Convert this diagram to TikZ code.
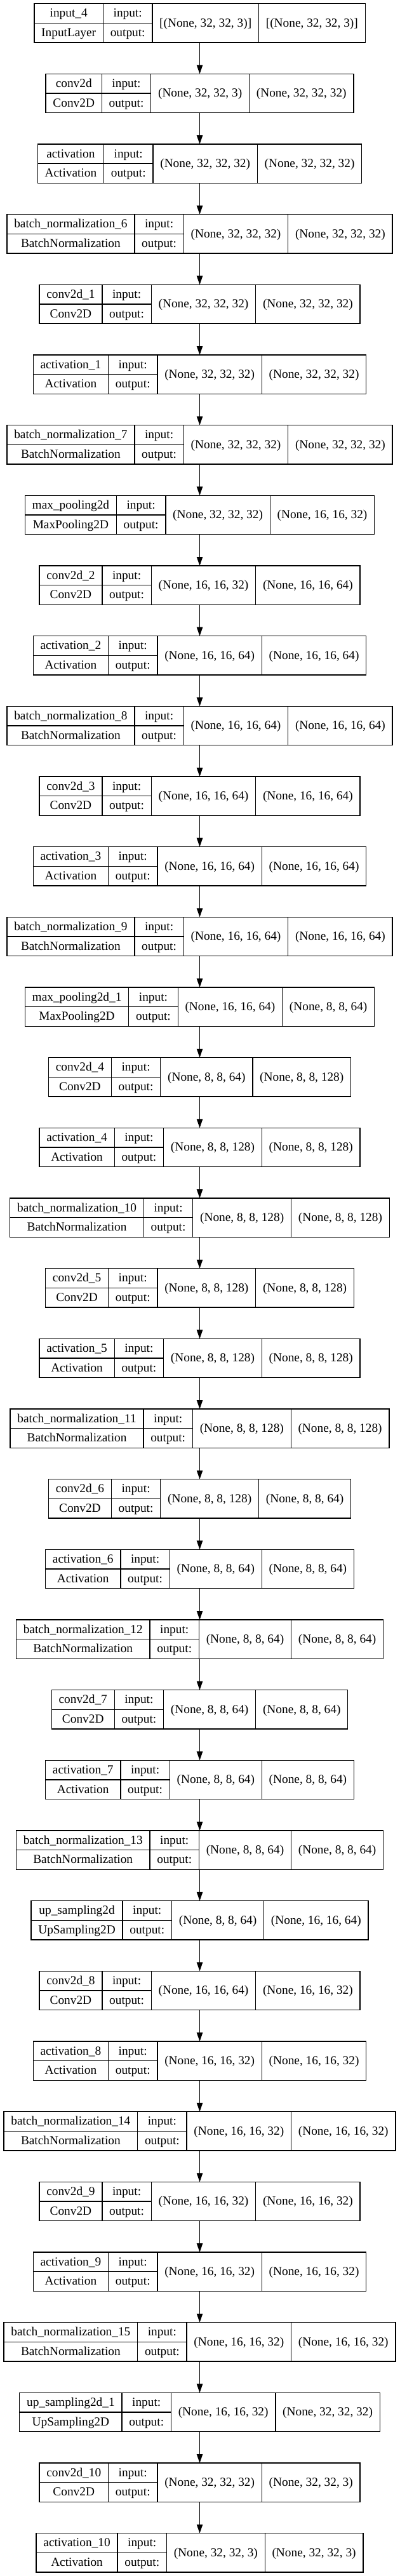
\documentclass[tikz,border=0pt]{standalone}
\usepackage{fontspec}
\setmainfont{Liberation Serif}
\usetikzlibrary{arrows.meta}
\newlength\wA \newlength\wB \newlength\wC \newlength\wD
\newlength\wAB \newlength\wABC \newlength\wT \newlength\tmpl
\newlength\padw \padw=17pt
\newcommand\lf{\fontsize{14.5}{17}\selectfont}
\newcommand\measure[2]{\setbox0=\hbox{\pgfinterruptpicture\normalfont\lf #2\endpgfinterruptpicture}#1=\wd0\relax}
\tikzset{
  kbox/.style={draw=black, line width=1pt, minimum height=46pt, inner sep=0pt, outer sep=0pt},
  kline/.style={draw=black, line width=1pt},
  ktxt/.style={font=\lf, inner sep=0pt, anchor=base},
  karr/.style={draw=black, line width=1pt, -{Triangle[length=10.5pt,width=7pt]}}
}
\newcommand\klayer[6]{%
  \measure\wA{#3}\measure\tmpl{#4}%
  \ifdim\tmpl>\wA\relax\wA=\tmpl\fi
  \addtolength\wA{\padw}%
  \measure\wB{output:}\addtolength\wB{\padw}%
  \measure\wC{#5}\addtolength\wC{\padw}%
  \measure\wD{#6}\addtolength\wD{\padw}%
  \wAB=\wA \advance\wAB\wB
  \wABC=\wAB \advance\wABC\wC
  \wT=\wABC \advance\wT\wD
  \node[kbox, minimum width=\wT] (#1) at ({235.9pt},{-(27.3+83*#2)*1pt}) {};
  \draw[kline] ([xshift=\wA]#1.north west) -- ([xshift=\wA]#1.south west);
  \draw[kline] ([xshift=\wAB]#1.north west) -- ([xshift=\wAB]#1.south west);
  \draw[kline] ([xshift=\wABC]#1.north west) -- ([xshift=\wABC]#1.south west);
  \draw[kline] (#1.west) -- ([xshift=\wAB]#1.west);
  \node[ktxt] (#1n) at ([xshift=0.5\wA, yshift=7.2pt]#1.west) {#3};
  \node[ktxt] (#1c) at ([xshift=0.5\wA, yshift=-15.8pt]#1.west) {#4};
  \node[ktxt] (#1i) at ([xshift=\wA+0.5\wB, yshift=7.2pt]#1.west) {input:};
  \node[ktxt] (#1o) at ([xshift=\wA+0.5\wB, yshift=-15.8pt]#1.west) {output:};
  \node[ktxt] (#1s) at ([xshift=\wAB+0.5\wC, yshift=-4.4pt]#1.west) {#5};
  \node[ktxt] (#1t) at ([xshift=\wABC+0.5\wD, yshift=-4.4pt]#1.west) {#6};
}
\begin{document}
\begin{tikzpicture}
\fill[white] (0,0) rectangle (471.75pt,-3042.75pt);
\useasboundingbox (0,0) rectangle (471.75pt,-3042.75pt);
\klayer{L0}{0}{input\_4}{InputLayer}{[(None, 32, 32, 3)]}{[(None, 32, 32, 3)]}
\klayer{L1}{1}{conv2d}{Conv2D}{(None, 32, 32, 3)}{(None, 32, 32, 32)}
\klayer{L2}{2}{activation}{Activation}{(None, 32, 32, 32)}{(None, 32, 32, 32)}
\klayer{L3}{3}{batch\_normalization\_6}{BatchNormalization}{(None, 32, 32, 32)}{(None, 32, 32, 32)}
\klayer{L4}{4}{conv2d\_1}{Conv2D}{(None, 32, 32, 32)}{(None, 32, 32, 32)}
\klayer{L5}{5}{activation\_1}{Activation}{(None, 32, 32, 32)}{(None, 32, 32, 32)}
\klayer{L6}{6}{batch\_normalization\_7}{BatchNormalization}{(None, 32, 32, 32)}{(None, 32, 32, 32)}
\klayer{L7}{7}{max\_pooling2d}{MaxPooling2D}{(None, 32, 32, 32)}{(None, 16, 16, 32)}
\klayer{L8}{8}{conv2d\_2}{Conv2D}{(None, 16, 16, 32)}{(None, 16, 16, 64)}
\klayer{L9}{9}{activation\_2}{Activation}{(None, 16, 16, 64)}{(None, 16, 16, 64)}
\klayer{L10}{10}{batch\_normalization\_8}{BatchNormalization}{(None, 16, 16, 64)}{(None, 16, 16, 64)}
\klayer{L11}{11}{conv2d\_3}{Conv2D}{(None, 16, 16, 64)}{(None, 16, 16, 64)}
\klayer{L12}{12}{activation\_3}{Activation}{(None, 16, 16, 64)}{(None, 16, 16, 64)}
\klayer{L13}{13}{batch\_normalization\_9}{BatchNormalization}{(None, 16, 16, 64)}{(None, 16, 16, 64)}
\klayer{L14}{14}{max\_pooling2d\_1}{MaxPooling2D}{(None, 16, 16, 64)}{(None, 8, 8, 64)}
\klayer{L15}{15}{conv2d\_4}{Conv2D}{(None, 8, 8, 64)}{(None, 8, 8, 128)}
\klayer{L16}{16}{activation\_4}{Activation}{(None, 8, 8, 128)}{(None, 8, 8, 128)}
\klayer{L17}{17}{batch\_normalization\_10}{BatchNormalization}{(None, 8, 8, 128)}{(None, 8, 8, 128)}
\klayer{L18}{18}{conv2d\_5}{Conv2D}{(None, 8, 8, 128)}{(None, 8, 8, 128)}
\klayer{L19}{19}{activation\_5}{Activation}{(None, 8, 8, 128)}{(None, 8, 8, 128)}
\klayer{L20}{20}{batch\_normalization\_11}{BatchNormalization}{(None, 8, 8, 128)}{(None, 8, 8, 128)}
\klayer{L21}{21}{conv2d\_6}{Conv2D}{(None, 8, 8, 128)}{(None, 8, 8, 64)}
\klayer{L22}{22}{activation\_6}{Activation}{(None, 8, 8, 64)}{(None, 8, 8, 64)}
\klayer{L23}{23}{batch\_normalization\_12}{BatchNormalization}{(None, 8, 8, 64)}{(None, 8, 8, 64)}
\klayer{L24}{24}{conv2d\_7}{Conv2D}{(None, 8, 8, 64)}{(None, 8, 8, 64)}
\klayer{L25}{25}{activation\_7}{Activation}{(None, 8, 8, 64)}{(None, 8, 8, 64)}
\klayer{L26}{26}{batch\_normalization\_13}{BatchNormalization}{(None, 8, 8, 64)}{(None, 8, 8, 64)}
\klayer{L27}{27}{up\_sampling2d}{UpSampling2D}{(None, 8, 8, 64)}{(None, 16, 16, 64)}
\klayer{L28}{28}{conv2d\_8}{Conv2D}{(None, 16, 16, 64)}{(None, 16, 16, 32)}
\klayer{L29}{29}{activation\_8}{Activation}{(None, 16, 16, 32)}{(None, 16, 16, 32)}
\klayer{L30}{30}{batch\_normalization\_14}{BatchNormalization}{(None, 16, 16, 32)}{(None, 16, 16, 32)}
\klayer{L31}{31}{conv2d\_9}{Conv2D}{(None, 16, 16, 32)}{(None, 16, 16, 32)}
\klayer{L32}{32}{activation\_9}{Activation}{(None, 16, 16, 32)}{(None, 16, 16, 32)}
\klayer{L33}{33}{batch\_normalization\_15}{BatchNormalization}{(None, 16, 16, 32)}{(None, 16, 16, 32)}
\klayer{L34}{34}{up\_sampling2d\_1}{UpSampling2D}{(None, 16, 16, 32)}{(None, 32, 32, 32)}
\klayer{L35}{35}{conv2d\_10}{Conv2D}{(None, 32, 32, 32)}{(None, 32, 32, 3)}
\klayer{L36}{36}{activation\_10}{Activation}{(None, 32, 32, 3)}{(None, 32, 32, 3)}
\foreach \a [evaluate=\a as \b using int(\a+1)] in {0,...,35} {
  \draw[karr] (L\a.south) -- (L\b.north);
}
\end{tikzpicture}
\end{document}
